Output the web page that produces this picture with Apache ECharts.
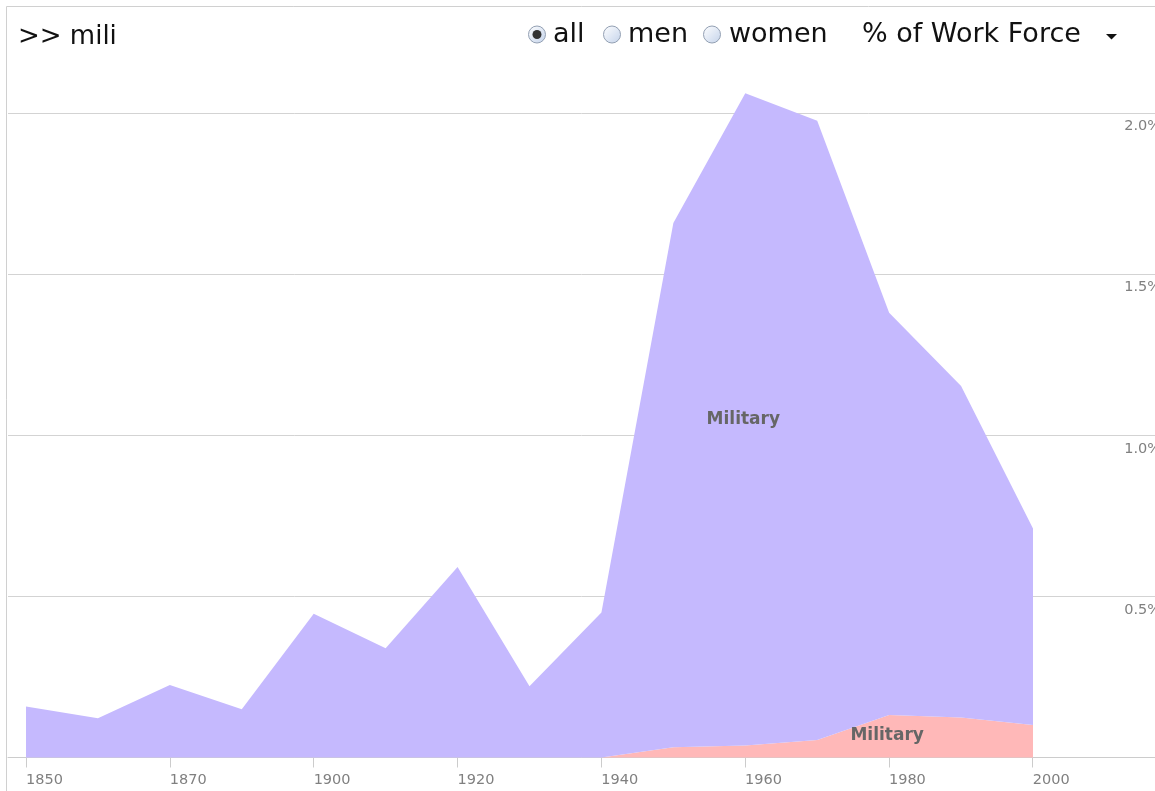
<!DOCTYPE html>
<html>
<head>
<meta charset="utf-8">
<script src="https://cdn.jsdelivr.net/npm/echarts@6/dist/echarts.min.js"></script>
<style>
  html, body { margin: 0; padding: 0; background: #fff; }
  #chart { width: 1155px; height: 791px; }
</style>
</head>
<body>
<div id="chart"></div>
<script>
// census years (1890 missing), labels on every other one
const years = ['1850', '1860', '1870', '1880', '1900', '1910', '1920', '1930', '1940', '1950', '1960', '1970', '1980', '1990', '2000'];
const labelYears = ['1850', '1870', '1900', '1920', '1940', '1960', '1980', '2000'];
// % of work force in military
const women = [0, 0, 0, 0, 0, 0, 0, 0, 0, 0.032, 0.037, 0.054, 0.132, 0.124, 0.101];
const men = [0.158, 0.122, 0.225, 0.150, 0.446, 0.339, 0.591, 0.221, 0.450, 1.627, 2.024, 1.922, 1.248, 1.029, 0.610];
const radioLabels = ['all', 'men', 'women'];

const chart = echarts.init(document.getElementById('chart'));
const font = 'DejaVu Sans';
const labelIdx = labelYears.map(y => years.indexOf(y));

function radio(cx, cy, checked) {
  const out = [{
    type: 'circle',
    shape: { cx: cx, cy: cy, r: 8.5 },
    style: {
      fill: new echarts.graphic.LinearGradient(0, 0, 1, 1, [
        { offset: 0, color: '#ffffff' },
        { offset: 1, color: '#c3d2ea' }
      ]),
      stroke: '#93a0b3',
      lineWidth: 1
    }
  }];
  if (checked) {
    out.push({ type: 'circle', shape: { cx: cx, cy: cy, r: 4.5 }, style: { fill: '#333' } });
  }
  return out;
}

const radioX = [537, 612, 712];
const radioTextX = [553, 628, 729];
const headFont = '27px "DejaVu Sans"';

let graphics = [
  { type: 'rect', shape: { x: 6.5, y: 6.5, width: 1300, height: 1000 }, style: { fill: null, stroke: '#d0d0d0', lineWidth: 1 } },
  { type: 'text', x: 18, y: 37, style: { text: '>> mili', font: '26px "DejaVu Sans"', fill: '#111', verticalAlign: 'middle' } },
  { type: 'text', x: 862, y: 35, style: { text: '% of Work Force', font: headFont, fill: '#111', verticalAlign: 'middle' } },
  { type: 'polygon', shape: { points: [[1106, 34], [1117, 34], [1111.5, 39.5]] }, style: { fill: '#111' } }
];
radioLabels.forEach((t, i) => {
  graphics = graphics.concat(radio(radioX[i], 34.5, i === 0));
  graphics.push({ type: 'text', x: radioTextX[i], y: 35, style: { text: t, font: headFont, fill: '#111', verticalAlign: 'middle' } });
});

chart.setOption({
  animation: false,
  backgroundColor: '#fff',
  grid: [
    // frame grid: gridlines, axis line, tick labels (labels run off the right edge)
    { left: 8, right: 0, top: 113, bottom: 33.5, outerBoundsMode: 'none' },
    // data grid: first to last census year
    { left: 26, right: 122, top: 113, bottom: 33.5, outerBoundsMode: 'none' }
  ],
  xAxis: [
    {
      type: 'value',
      gridIndex: 0,
      min: -0.25,
      max: 15.70,
      axisLine: { lineStyle: { color: '#cccccc' } },
      axisTick: { customValues: labelIdx, length: 10, lineStyle: { color: '#cccccc' } },
      axisLabel: {
        customValues: labelIdx,
        formatter: v => years[Math.round(v)],
        align: 'left',
        margin: 15,
        color: '#808080',
        fontFamily: font,
        fontSize: 14.5
      },
      splitLine: { show: false }
    },
    { type: 'category', gridIndex: 1, data: years, boundaryGap: false, show: false }
  ],
  yAxis: [
    {
      type: 'value',
      gridIndex: 0,
      position: 'right',
      min: 0,
      max: 2,
      interval: 0.5,
      axisLine: { show: false },
      axisTick: { show: false },
      splitLine: { lineStyle: { color: '#d3d3d3' } },
      axisLabel: {
        inside: true,
        showMinLabel: false,
        formatter: v => v.toFixed(1) + '%',
        verticalAlign: 'top',
        padding: [6, 0, 0, 0],
        margin: -6,
        color: '#808080',
        fontFamily: font,
        fontSize: 14.5
      }
    },
    { type: 'value', gridIndex: 1, min: 0, max: 2, show: false, splitLine: { show: false } }
  ],
  series: [
    {
      name: 'women', type: 'line', stack: 'mil', xAxisIndex: 1, yAxisIndex: 1, data: women,
      symbol: 'none', clip: false, lineStyle: { width: 0 },
      areaStyle: { color: '#ffb8b8', opacity: 1 }
    },
    {
      name: 'men', type: 'line', stack: 'mil', xAxisIndex: 1, yAxisIndex: 1, data: men,
      symbol: 'none', clip: false, lineStyle: { width: 0 },
      areaStyle: { color: '#c5b9fe', opacity: 1 }
    }
  ]
});

// area labels placed in data coordinates
const areaLabels = [
  { text: 'Military', at: ['1960', 1.05] },
  { text: 'Military', at: ['1980', 0.068] }
];
areaLabels.forEach(l => {
  const p = chart.convertToPixel({ xAxisIndex: 1, yAxisIndex: 1 }, l.at);
  graphics.push({
    type: 'text', x: p[0] - 2, y: p[1], z: 10,
    style: { text: l.text, font: 'bold 17px "DejaVu Sans"', fill: '#666', align: 'center', verticalAlign: 'middle' }
  });
});

chart.setOption({ graphic: graphics });
</script>
</body>
</html>
